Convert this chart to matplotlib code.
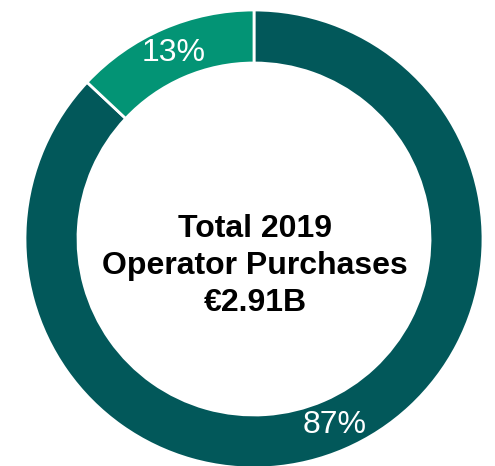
import matplotlib
matplotlib.use("Agg")
import matplotlib.pyplot as plt

# datos del gráfico
categorias = ["Other", "Operator"]
valores = [87, 13]
colores = ["#02585A", "#039475"]
titulo_centro = ["Total 2019", "Operator Purchases", "\u20ac2.91B"]

fig = plt.figure(figsize=(4.95, 4.66), dpi=100)
ax = fig.add_axes([0, 0, 1, 1])

radio = 229
ancho = 53
centro = (254, 466 - 239)

wedges, textos, autotextos = ax.pie(
    valores,
    colors=colores,
    startangle=90,
    counterclock=False,
    radius=radio,
    center=centro,
    autopct="%d%%",
    pctdistance=1 - (ancho / 2) / radio,
    wedgeprops=dict(width=ancho, edgecolor="white", linewidth=2),
    textprops=dict(color="white", fontsize=23, family="Liberation Sans"),
    frame=True,
)
ax.set_xlim(0, 495)
ax.set_ylim(0, 466)
ax.axis("off")

# texto central, un poco por debajo del centro del anillo
ax.text(centro[0] + 1, centro[1] - 27, "\n".join(titulo_centro), ha="center", va="center",
        fontsize=23, fontweight="bold", family="Liberation Sans",
        linespacing=1.3, color="black")

fig.savefig("out.png", dpi=100)
